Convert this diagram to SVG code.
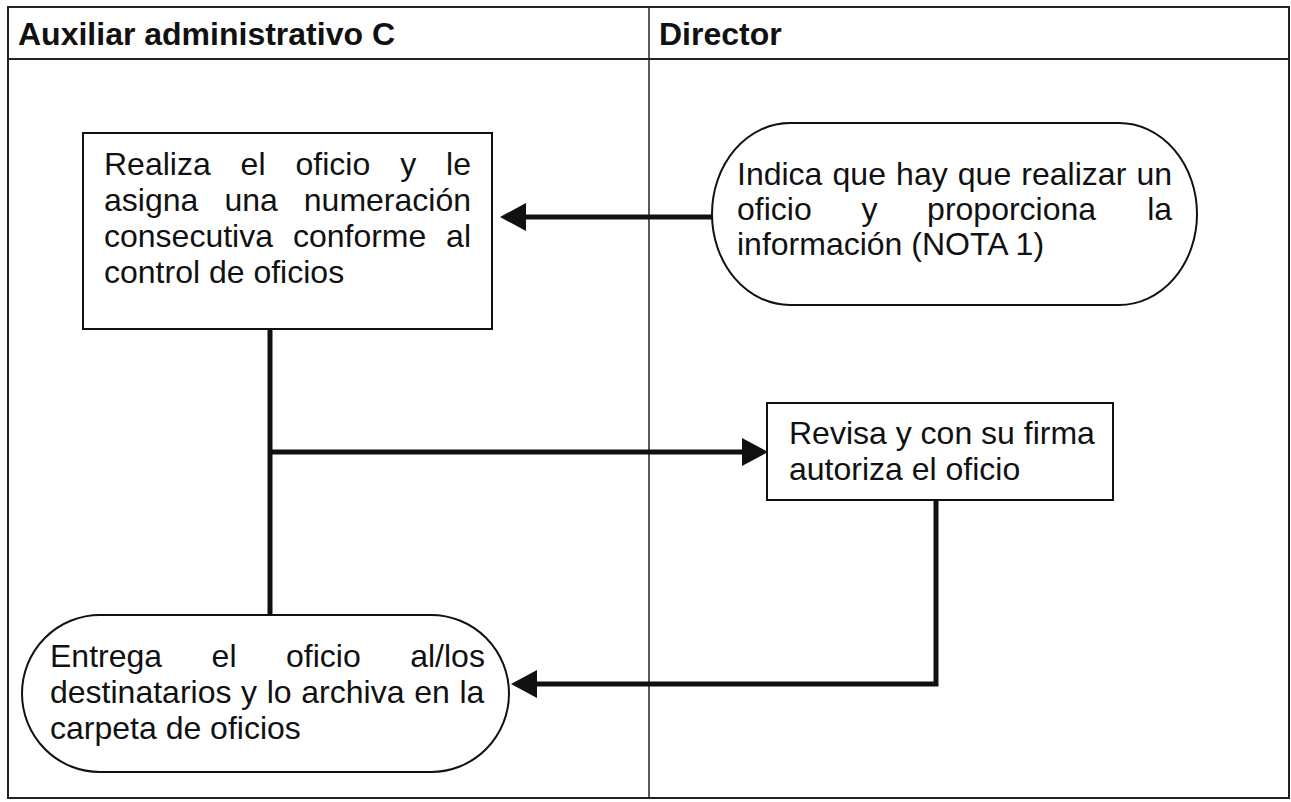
<svg xmlns="http://www.w3.org/2000/svg" width="1291" height="802" viewBox="0 0 1291 802">
<style>
text{font-family:"Liberation Sans",Arial,sans-serif;font-size:32px;fill:#111}
.hdr{font-weight:bold}
.shape{fill:#fff;stroke:#111;stroke-width:2}
.conn{fill:none;stroke:#111;stroke-width:5;stroke-linejoin:miter}
.frame{fill:none;stroke:#222;stroke-width:2}
</style>
<defs>
<marker id="ah" markerUnits="userSpaceOnUse" viewBox="0 0 26 28" refX="16" refY="14" markerWidth="26" markerHeight="28" orient="auto"><path d="M0,0 L26,14 L0,28 Z" fill="#111"/></marker>
</defs>
<rect x="0" y="0" width="1291" height="802" fill="#fff"/>
<g id="lanes">
<rect class="frame" x="8" y="7" width="1281" height="791"/>
<line class="frame" x1="8" y1="59" x2="1289" y2="59"/>
<line x1="649" y1="7" x2="649" y2="798" stroke="#222" stroke-width="1.5"/>
<text class="hdr" x="18" y="45">Auxiliar administrativo C</text>
<text class="hdr" x="659" y="45">Director</text>
</g>
<g id="connectors">
<line class="conn" x1="712" y1="217" x2="510" y2="217" marker-end="url(#ah)"/>
<line class="conn" x1="270" y1="329" x2="270" y2="615"/>
<line class="conn" x1="272" y1="452" x2="758" y2="452" marker-end="url(#ah)"/>
<polyline class="conn" points="936,500 936,684 521,684" marker-end="url(#ah)"/>
</g>
<g id="n1">
<rect class="shape" x="83" y="133" width="409" height="196"/>
<text y="175"><tspan x="104">Realiza</tspan><tspan x="240.6">el</tspan><tspan x="295.5">oficio</tspan><tspan x="400.2">y</tspan><tspan x="446.1">le</tspan></text>
<text y="211"><tspan x="104">asigna</tspan><tspan x="224.4">una</tspan><tspan x="303.8">numeración</tspan></text>
<text y="247"><tspan x="104">consecutiva</tspan><tspan x="292.9">conforme</tspan><tspan x="446.1">al</tspan></text>
<text x="104" y="283">control de oficios</text>
</g>
<g id="n2">
<path class="shape" d="M790,123 H1119 A78,91 0 0 1 1119,305 H790 A78,91 0 0 1 790,123 Z"/>
<text x="737" y="185" word-spacing="1.26">Indica que hay que realizar un</text>
<text y="220"><tspan x="737">oficio</tspan><tspan x="861.4">y</tspan><tspan x="927.1">proporciona</tspan><tspan x="1147.2">la</tspan></text>
<text x="737" y="255">información (NOTA 1)</text>
</g>
<g id="n3">
<rect class="shape" x="767" y="403" width="346" height="97"/>
<text x="789" y="444">Revisa y con su firma</text>
<text x="789" y="480">autoriza el oficio</text>
</g>
<g id="n4">
<path class="shape" d="M100,615 H431 A78,78.5 0 0 1 431,772 H100 A78,78.5 0 0 1 100,615 Z"/>
<text y="667"><tspan x="50">Entrega</tspan><tspan x="211.6">el</tspan><tspan x="286">oficio</tspan><tspan x="410.2">al/los</tspan></text>
<text x="50" y="703" word-spacing="0.77">destinatarios y lo archiva en la</text>
<text x="50" y="739">carpeta de oficios</text>
</g>
</svg>
